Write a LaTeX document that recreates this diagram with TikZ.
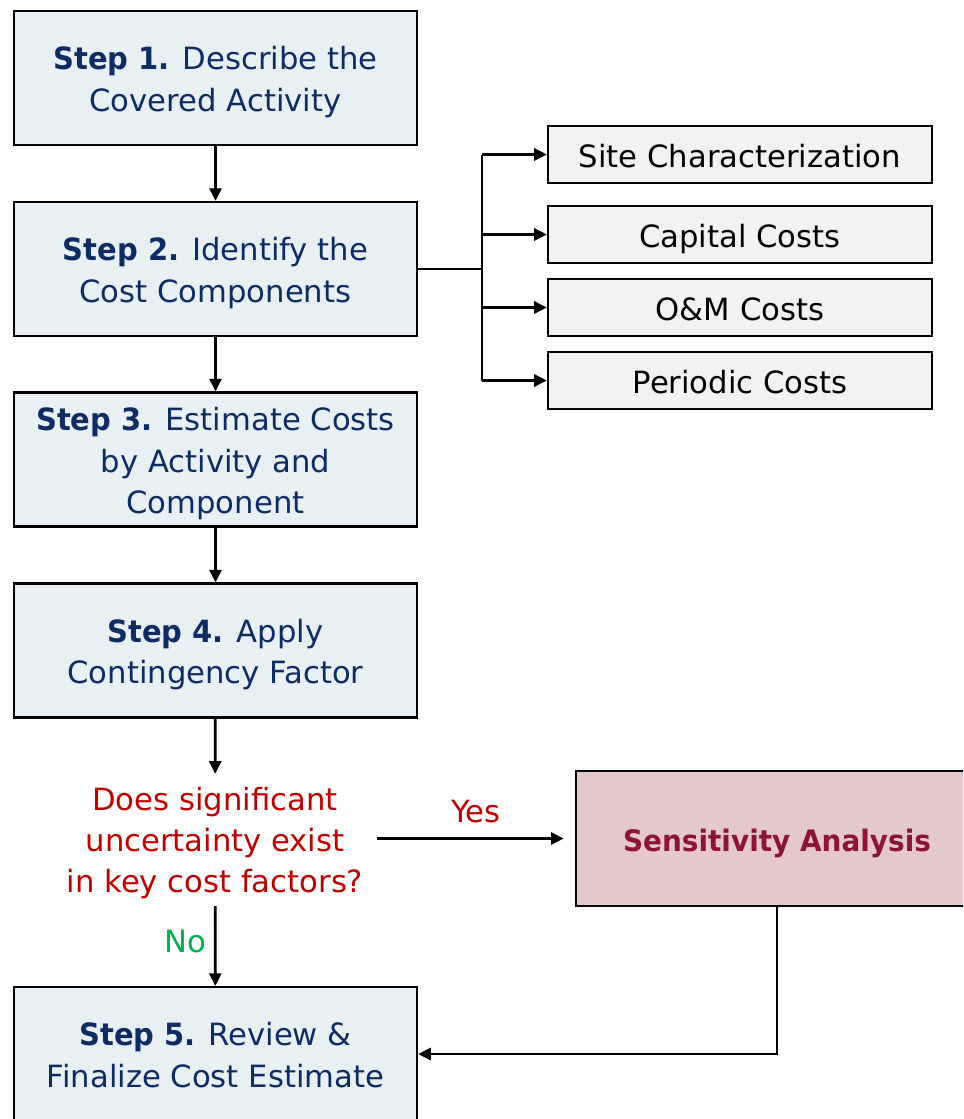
\documentclass[tikz,border=0pt]{standalone}
\usepackage{fontspec}
\setmainfont{DejaVu Sans}[BoldFeatures={FakeStretch=0.945}]
\usetikzlibrary{arrows.meta}
\definecolor{stepfill}{HTML}{E9F0F3}
\definecolor{steptext}{HTML}{0E2C64}
\definecolor{partfill}{HTML}{F2F2F2}
\definecolor{sensfill}{HTML}{E5C8CA}
\definecolor{senstext}{HTML}{8C1631}
\definecolor{asktext}{HTML}{C00000}
\definecolor{notext}{HTML}{00B050}
\newcommand{\boxfont}{\fontsize{21.8}{29.2}\selectfont}
\newcommand{\stepno}[1]{\rule{0pt}{23pt}\textbf{Step #1.}}
\tikzset{
 oneline/.style={
  execute at begin node=\rule{0pt}{23pt},
  execute at end node=\rule[-5.2pt]{0pt}{5.2pt}},
 stepbox/.style={draw, line width=1.5pt, fill=stepfill, text=steptext, align=center,
  minimum width=10.075cm, minimum height=3.35cm, font=\boxfont, text depth=5.2pt},
 partbox/.style={draw, line width=1.5pt, fill=partfill, text=black,
  minimum width=9.6cm, minimum height=1.425cm, font=\boxfont, oneline},
 sensbox/.style={draw, line width=1.5pt, fill=sensfill, text=senstext,
  minimum width=10.05cm, minimum height=3.375cm, font=\fontsize{21}{29.2}\selectfont\bfseries, oneline},
 asknode/.style={text=asktext, align=center, inner sep=0.33cm, font=\boxfont, text depth=0pt},
 arr/.style={line width=2pt, -{Triangle[length=9pt,width=8.5pt]}},
 forkline/.style={line width=2pt}
}
\begin{document}
\begin{tikzpicture}[x=0.025cm,y=-0.025cm]
\path[use as bounding box] (0,0) rectangle (963,1119);
\clip (0,0) rectangle (963,1119);

% main steps
\node[stepbox] (step1) at (215.5,78) {\stepno{1} Describe the\\Covered Activity};
\node[stepbox] (step2) at (215.5,269) {\stepno{2} Identify the\\Cost Components};
\node[stepbox] (step3) at (215.5,459.5) {\stepno{3} Estimate Costs\\by Activity and\\Component};
\node[stepbox] (step4) at (215.5,650.5) {\stepno{4} Apply\\Contingency Factor};
\node[asknode] (ask) at (215,840) {Does significant\\uncertainty exist\\in key cost factors?};
\node[stepbox] (step5) at (215.5,1054) {\stepno{5} Review \&\\Finalize Cost Estimate};
\node[sensbox] (sens) at (777,838.5) {Sensitivity Analysis};

% cost components
\node[partbox] (site) at (740,154.5) {Site Characterization};
\node[partbox] (capital) at (740,234.5) {Capital Costs};
\node[partbox] (om) at (740,307.5) {O\&M Costs};
\node[partbox] (periodic) at (740,380.5) {Periodic Costs};

\draw[arr] (step1) -- (step2);
\draw[arr] (step2) -- (step3);
\draw[arr] (step3) -- (step4);
\draw[arr] (step4) -- (ask);
\draw[arr] (ask) -- node[left, text=notext, font=\boxfont, xshift=-2pt, yshift=3pt]{No} (step5);
\draw[arr, shorten >=0.28cm] (ask.east |- sens.west) -- node[above, text=asktext, font=\boxfont, yshift=7pt]{Yes} (sens.west);
\draw[arr] (sens.south) |- (step5.east);

\coordinate (fork) at (482,269);
\draw[forkline] (step2.east) -- (fork);
\draw[forkline] (fork |- site) -- (fork |- periodic);
\foreach \part in {site,capital,om,periodic}
 \draw[arr] (fork |- \part) -- (\part.west);

\end{tikzpicture}
\end{document}
